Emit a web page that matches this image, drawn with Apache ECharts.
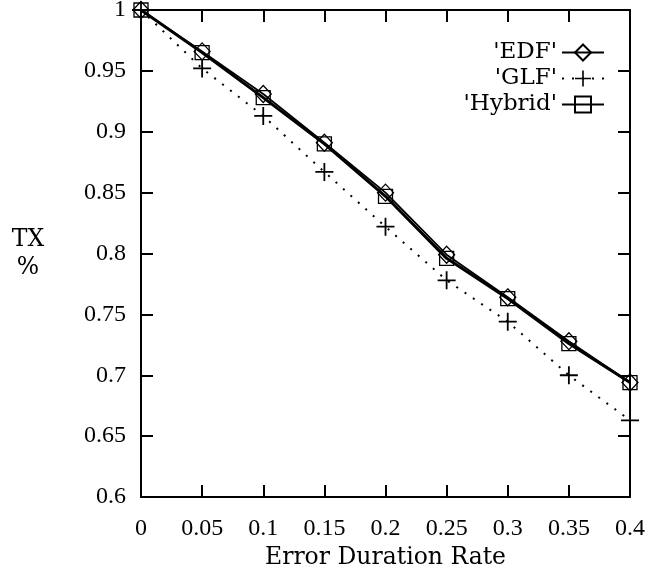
<!DOCTYPE html>
<html>
<head>
<meta charset="utf-8">
<script src="https://cdn.jsdelivr.net/npm/echarts@6/dist/echarts.min.js"></script>
<style>html,body{margin:0;padding:0;background:#fff}#c{width:668px;height:573px}</style>
</head>
<body>
<div id="c"></div>
<script>
const xValues = [0, 0.05, 0.1, 0.15, 0.2, 0.25, 0.3, 0.35, 0.4];
const edf =    [1.0, 0.966, 0.931, 0.891, 0.850, 0.799, 0.764, 0.728, 0.694];
const glf =    [1.0, 0.952, 0.913, 0.867, 0.822, 0.778, 0.744, 0.700, 0.663];
const hybrid = [1.0, 0.965, 0.928, 0.890, 0.847, 0.796, 0.763, 0.726, 0.694];
const seriesNames = ["'EDF'", "'GLF'", "'Hybrid'"];
const xTitle = 'Error Duration Rate';
const yTitle = 'TX\n%';

const NUMFONT = 'Liberation Serif';
const WORDFONT = 'DejaVu Serif';
const pair = (ys) => xValues.map((x, i) => [x, ys[i]]);
const plusPath = 'path://M7.2,0 H8.8 V7.2 H16 V8.8 H8.8 V16 H7.2 V8.8 H0 V7.2 H7.2 Z';

function makeAxis(extra) {
  const a = {
    type: 'value',
    axisLine: {show: true, onZero: false, lineStyle: {color: '#000', width: 2}},
    axisTick: {show: true, inside: false, length: -12, lineStyle: {color: '#000', width: 2}},
    splitLine: {show: false}
  };
  return Object.assign(a, extra);
}

const chart = echarts.init(document.getElementById('c'), null, {renderer: 'canvas'});
chart.setOption({
  animation: false,
  backgroundColor: '#fff',
  grid: {left: 141, right: 38, top: 10, bottom: 76, containLabel: false, outerBoundsMode: 'none'},
  legend: {
    orient: 'vertical', right: 58, top: 36, align: 'right',
    itemWidth: 42, itemHeight: 20, itemGap: 3,
    textStyle: {fontFamily: WORDFONT, fontSize: 23, color: '#000'},
    data: seriesNames
  },
  xAxis: [
    makeAxis({
      min: 0, max: 0.4, interval: 0.05, position: 'bottom',
      axisLabel: {color: '#000', fontFamily: NUMFONT, fontSize: 24, margin: 20},
      name: xTitle, nameLocation: 'middle', nameGap: 43,
      nameTextStyle: {color: '#000', fontFamily: WORDFONT, fontSize: 23.5}
    }),
    makeAxis({
      min: 0, max: 0.4, interval: 0.05, position: 'top',
      axisLabel: {show: false}
    })
  ],
  yAxis: [
    makeAxis({
      min: 0.6, max: 1, interval: 0.05, position: 'left',
      axisLabel: {color: '#000', fontFamily: NUMFONT, fontSize: 24, margin: 15},
      name: yTitle, nameLocation: 'middle', nameGap: 113, nameRotate: 0,
      nameTextStyle: {color: '#000', fontFamily: WORDFONT, fontSize: 23.5, lineHeight: 28, align: 'center'}
    }),
    makeAxis({
      min: 0.6, max: 1, interval: 0.05, position: 'right',
      axisLabel: {show: false}
    })
  ],
  series: [
    {
      name: seriesNames[0], type: 'line', data: pair(edf),
      symbol: 'diamond', symbolSize: [16, 17],
      lineStyle: {color: '#000', width: 1.8},
      itemStyle: {color: 'rgba(255,255,255,0)', borderColor: '#000', borderWidth: 1.3},
      z: 3
    },
    {
      name: seriesNames[1], type: 'line', data: pair(glf),
      symbol: plusPath, symbolSize: 18,
      lineStyle: {color: '#000', width: 2, type: [2, 8]},
      itemStyle: {color: '#000', borderWidth: 0},
      z: 2
    },
    {
      name: seriesNames[2], type: 'line', data: pair(hybrid),
      symbol: 'rect', symbolSize: 14,
      lineStyle: {color: '#000', width: 3},
      itemStyle: {color: 'rgba(255,255,255,0)', borderColor: '#000', borderWidth: 1.3},
      z: 4
    }
  ]
});
</script>
</body>
</html>
